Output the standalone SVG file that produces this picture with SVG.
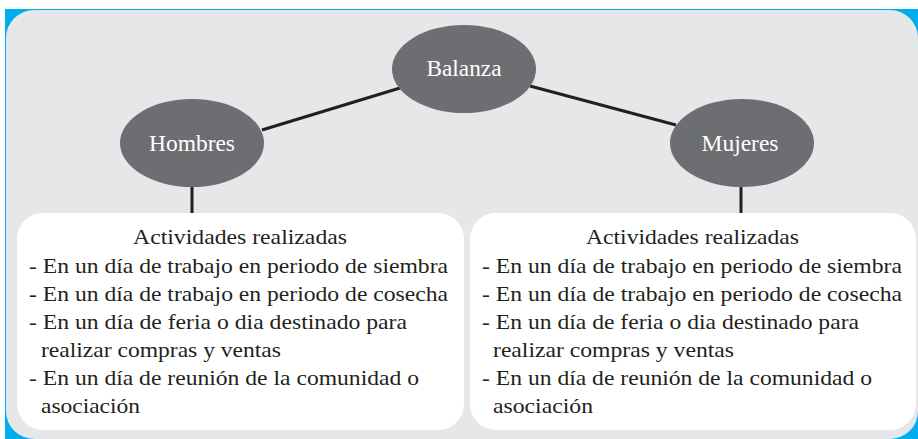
<svg xmlns="http://www.w3.org/2000/svg" width="918" height="439" viewBox="0 0 918 439">
<style>
.node ellipse{fill:#6d6e71}
.node text{fill:#ffffff;font-family:"Liberation Serif",serif;font-size:24px;text-anchor:middle}
.box rect{fill:#ffffff}
.box text{fill:#231f20;font-family:"Liberation Serif",serif;font-size:21.5px}
.conn line{stroke:#231f20;stroke-width:3}
</style>
<rect x="5" y="9" width="913" height="430" fill="#00aeef"/>
<rect x="6" y="10" width="912" height="429" rx="28" ry="28" fill="#e6e7e8"/>
<g class="conn">
<line x1="262" y1="130" x2="400" y2="88"/>
<line x1="530" y1="86" x2="676" y2="125"/>
<line x1="192" y1="186" x2="192" y2="214"/>
<line x1="741" y1="186" x2="741" y2="214"/>
</g>
<g id="balanza" class="node"><ellipse cx="464" cy="69" rx="72" ry="44"/><text x="464" y="76" textLength="75" lengthAdjust="spacingAndGlyphs">Balanza</text></g>
<g id="hombres" class="node"><ellipse cx="192" cy="143" rx="72" ry="44"/><text x="192" y="151" textLength="86" lengthAdjust="spacingAndGlyphs">Hombres</text></g>
<g id="mujeres" class="node"><ellipse cx="742" cy="143" rx="72" ry="44"/><text x="740" y="151" textLength="77" lengthAdjust="spacingAndGlyphs">Mujeres</text></g>
<g id="actividades-hombres" class="box">
<rect x="17" y="213" width="447" height="217" rx="26" ry="26"/>
<text x="133" y="244" textLength="214" lengthAdjust="spacingAndGlyphs">Actividades realizadas</text>
<text x="29" y="273" textLength="419" lengthAdjust="spacingAndGlyphs">- En un día de trabajo en periodo de siembra</text>
<text x="29" y="301" textLength="419" lengthAdjust="spacingAndGlyphs">- En un día de trabajo en periodo de cosecha</text>
<text x="29" y="329" textLength="378" lengthAdjust="spacingAndGlyphs">- En un día de feria o dia destinado para</text>
<text x="41" y="357" textLength="240" lengthAdjust="spacingAndGlyphs">realizar compras y ventas</text>
<text x="29" y="385" textLength="390" lengthAdjust="spacingAndGlyphs">- En un día de reunión de la comunidad o</text>
<text x="41" y="413" textLength="99" lengthAdjust="spacingAndGlyphs">asociación</text>
</g>
<g id="actividades-mujeres" class="box">
<rect x="470" y="213" width="446" height="217" rx="26" ry="26"/>
<text x="586" y="244" textLength="213" lengthAdjust="spacingAndGlyphs">Actividades realizadas</text>
<text x="482" y="273" textLength="420" lengthAdjust="spacingAndGlyphs">- En un día de trabajo en periodo de siembra</text>
<text x="482" y="301" textLength="420" lengthAdjust="spacingAndGlyphs">- En un día de trabajo en periodo de cosecha</text>
<text x="482" y="329" textLength="377" lengthAdjust="spacingAndGlyphs">- En un día de feria o dia destinado para</text>
<text x="493" y="357" textLength="241" lengthAdjust="spacingAndGlyphs">realizar compras y ventas</text>
<text x="482" y="385" textLength="390" lengthAdjust="spacingAndGlyphs">- En un día de reunión de la comunidad o</text>
<text x="493" y="413" textLength="100" lengthAdjust="spacingAndGlyphs">asociación</text>
</g>
</svg>
